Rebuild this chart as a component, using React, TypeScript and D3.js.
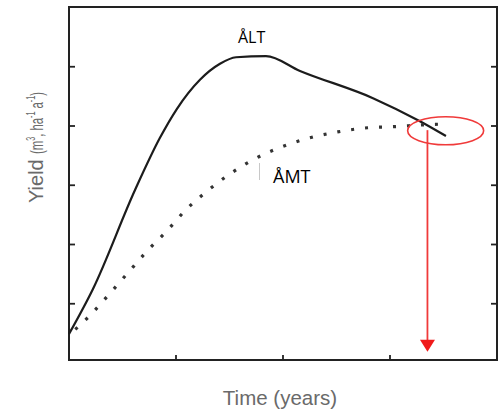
import React from "react";
import * as d3 from "d3";

// Time (years) vs yield
const altX = [0, 0.224, 0.617, 0.85, 1.009, 1.224, 1.411, 1.561, 1.841, 2.159, 2.841, 3.28, 3.523];
const altY = [0.49, 1.25, 2.92, 3.8, 4.29, 4.78, 5.05, 5.16, 5.18, 4.93, 4.47, 4.08, 3.83];

const amtX = [0.01, 0.2, 0.37, 0.55, 0.73, 0.92, 1.09, 1.29, 1.52, 1.75, 1.99, 2.25, 2.51, 2.79, 3.05, 3.31, 3.45];
const amtY = [0.49, 0.81, 1.15, 1.52, 1.89, 2.24, 2.58, 2.9, 3.21, 3.46, 3.65, 3.8, 3.9, 3.97, 3.99, 4.02, 4.03];

const xTicks = [1, 2, 3];
const yTicks = [1, 2, 3, 4, 5];

// annotation: ellipse around intersection and arrow down to time axis
const markX = [3.52];
const markY = [3.92];
const arrowX = [3.35];
const arrowFromY = [3.93];
const arrowToY = [0.19];

const W = 500;
const H = 410;
const frame = { left: 69, top: 7, right: 497, bottom: 360 };

export default function App() {
  const x = d3.scaleLinear().domain([0, 4]).range([69, 497]);
  const y = d3.scaleLinear().domain([0, 6]).range([363, 7.5]);

  const line = d3
    .line<[number, number]>()
    .x((d) => x(d[0]))
    .y((d) => y(d[1]))
    .curve(d3.curveMonotoneX);

  const altPath = line(altX.map((v, i) => [v, altY[i]] as [number, number])) || "";
  const amtPath = line(amtX.map((v, i) => [v, amtY[i]] as [number, number])) || "";

  const ax = x(arrowX[0]);
  const ay0 = y(arrowFromY[0]);
  const ay1 = y(arrowToY[0]);
  const headH = 12;
  const headW = 7.5;

  return (
    <svg
      width={W}
      height={H}
      style={{ position: "absolute", left: 0, top: 0, background: "#fff" }}
    >
      <rect x={0} y={0} width={W} height={H} fill="#fff" />
      {/* frame */}
      <rect
        x={frame.left}
        y={frame.top}
        width={frame.right - frame.left}
        height={frame.bottom - frame.top}
        fill="none"
        stroke="#222"
        strokeWidth={2}
      />
      {/* ticks */}
      {yTicks.map((t) => (
        <g key={"y" + t}>
          <line x1={frame.left} x2={frame.left + 6} y1={y(t)} y2={y(t)} stroke="#222" strokeWidth={1.8} />
          <line x1={frame.right} x2={frame.right - 6} y1={y(t)} y2={y(t)} stroke="#222" strokeWidth={1.8} />
        </g>
      ))}
      {xTicks.map((t) => (
        <line key={"x" + t} x1={x(t)} x2={x(t)} y1={frame.bottom} y2={frame.bottom - 5} stroke="#222" strokeWidth={1.8} />
      ))}

      {/* curves */}
      <path d={altPath} fill="none" stroke="#1c1c1c" strokeWidth={2.2} strokeLinejoin="round" />
      <path d={amtPath} fill="none" stroke="#333" strokeWidth={3.2} strokeDasharray="3 11" strokeDashoffset={-7} />

      {/* labels */}
      <text x={238} y={43} fontFamily="'Open Sans', sans-serif" fontSize={16} fill="#000">ÅLT</text>
      <text x={273} y={183} fontFamily="'Open Sans', sans-serif" fontSize={18} fill="#000">ÅMT</text>
      <line x1={259.5} x2={259.5} y1={163} y2={180} stroke="#c8c8c8" strokeWidth={1} />

      {/* red annotation */}
      <ellipse cx={x(markX[0])} cy={y(markY[0])} rx={38} ry={14} fill="none" stroke="#f03a3a" strokeWidth={1.6} />
      <line x1={ax} x2={ax} y1={ay0} y2={ay1 - headH + 1} stroke="#f03a3a" strokeWidth={1.8} />
      <path d={`M${ax - headW},${ay1 - headH} L${ax + headW},${ay1 - headH} L${ax},${ay1} Z`} fill="#f01a1a" />

      {/* axis titles */}
      <text
        x={280}
        y={405}
        textAnchor="middle"
        fontFamily="'Liberation Sans', Arial, sans-serif"
        fontSize={20.5}
        fill="#6a6a6a"
      >
        Time (years)
      </text>
      <g transform="translate(43,203) rotate(-90)">
        <text x={0} y={0} fontFamily="'Liberation Sans', Arial, sans-serif" fontSize={20} fill="#6a6a6a">
          Yield
        </text>
        <text
          x={49}
          y={0}
          fontFamily="'Liberation Sans', Arial, sans-serif"
          fontSize={19}
          fill="#6a6a6a"
          textLength={62}
          lengthAdjust="spacingAndGlyphs"
        >
          (m<tspan fontSize={12} dy={-8}>3</tspan>
          <tspan dy={8}>, ha</tspan>
          <tspan fontSize={12} dy={-8}>-1</tspan>
          <tspan dy={8}> a</tspan>
          <tspan fontSize={12} dy={-8}>-1</tspan>
          <tspan dy={8}>)</tspan>
        </text>
      </g>
    </svg>
  );
}
